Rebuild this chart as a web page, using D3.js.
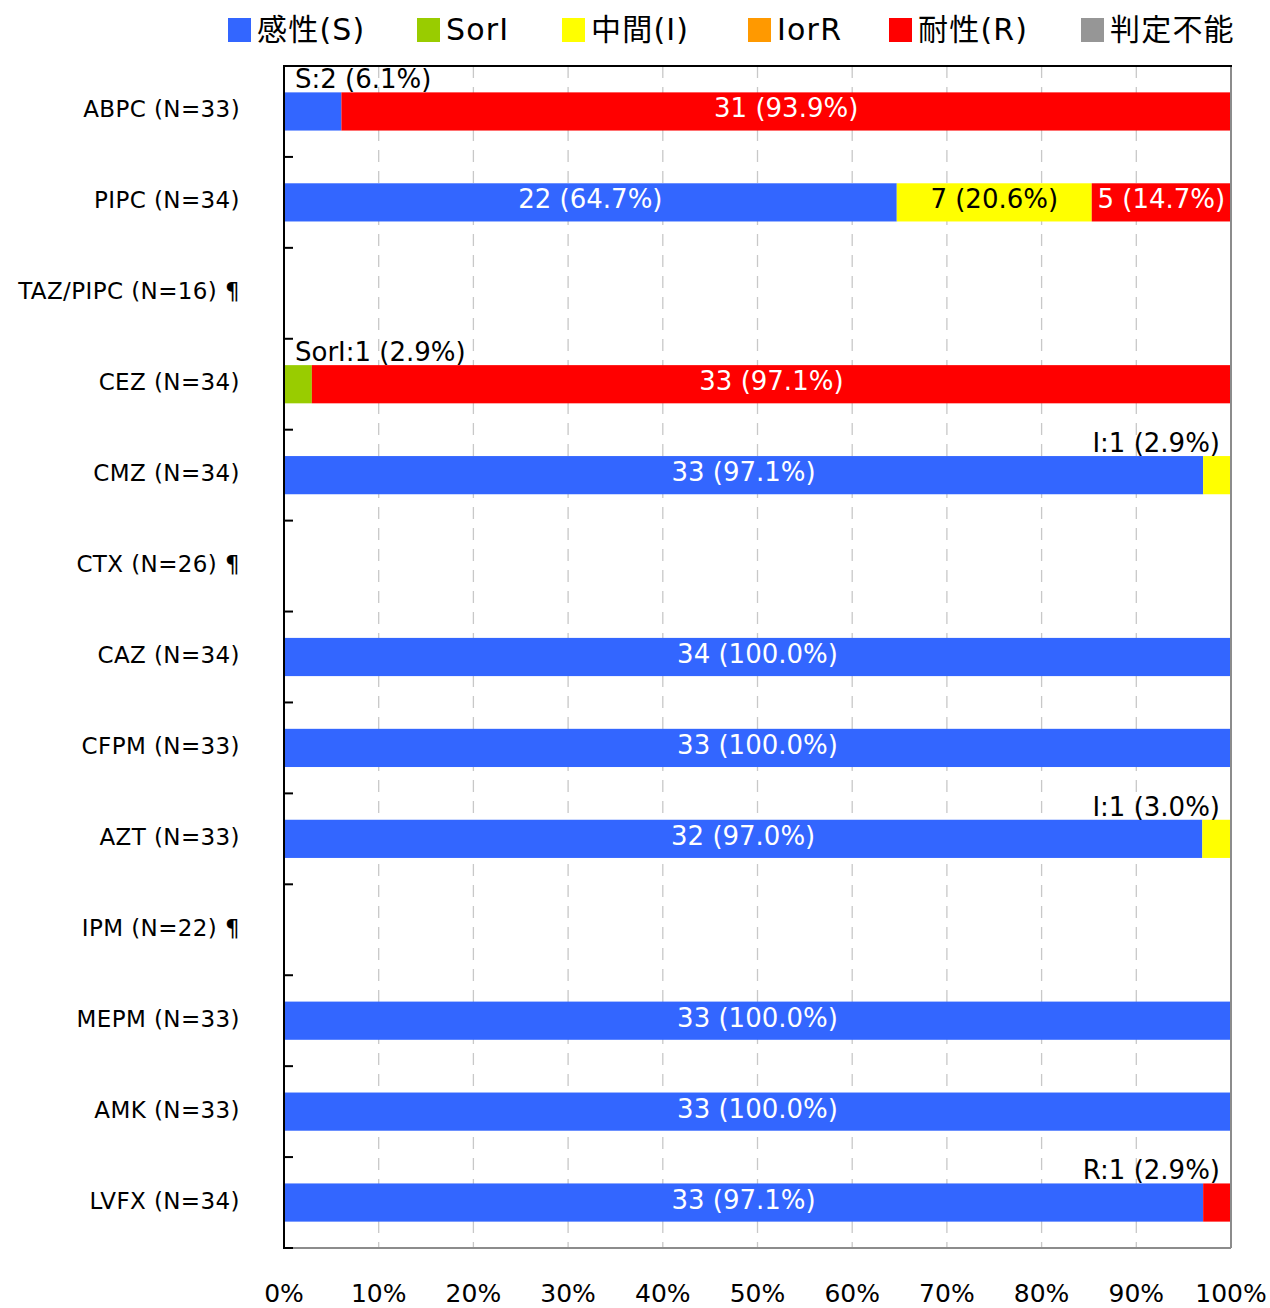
<!DOCTYPE html>
<html><head><meta charset="utf-8">
<script src="https://cdn.jsdelivr.net/npm/d3@7/dist/d3.min.js"></script>
<style>body{margin:0;background:#fff}svg{display:block}</style>
</head><body>
<svg id="c" width="1270" height="1308"></svg>
<script>
const categories = ["ABPC (N=33)","PIPC (N=34)","TAZ/PIPC (N=16) ¶","CEZ (N=34)","CMZ (N=34)","CTX (N=26) ¶","CAZ (N=34)","CFPM (N=33)","AZT (N=33)","IPM (N=22) ¶","MEPM (N=33)","AMK (N=33)","LVFX (N=34)"];
const seriesNames = ["感性(S)","SorI","中間(I)","IorR","耐性(R)","判定不能"];
const seriesKeys = ["S","SorI","I","IorR","R","ND"];
const seriesColors = ["#3366FF","#99CC00","#FFFF00","#FF9900","#FF0000","#969696"];
const labelColors = ["#fff","#fff","#000","#000","#fff","#fff"];
const countS    = [2,22,0,0,33,0,34,33,32,0,33,33,33];
const countSorI = [0,0,0,1,0,0,0,0,0,0,0,0,0];
const countI    = [0,7,0,0,1,0,0,0,1,0,0,0,0];
const countIorR = [0,0,0,0,0,0,0,0,0,0,0,0,0];
const countR    = [31,5,0,33,0,0,0,0,0,0,0,0,1];
const countND   = [0,0,0,0,0,0,0,0,0,0,0,0,0];
const xTicks = [0,10,20,30,40,50,60,70,80,90,100];

(function(){
const seriesCounts = [countS,countSorI,countI,countIorR,countR,countND];
const svg = d3.select("#c");
const FONT = "'DejaVu Sans','Noto Sans CJK JP',sans-serif";
const pL=284, pR=1231, pT=66, pB=1248;
const x = d3.scaleLinear().domain([0,100]).range([pL,pR]);
const y = d3.scaleBand().domain(categories).range([pT,pB]);
const barH = y.bandwidth()*0.42;

// gridlines
svg.append("g").selectAll("line").data(xTicks.filter(d=>d>0&&d<100)).join("line")
  .attr("x1",d=>x(d)).attr("x2",d=>x(d)).attr("y1",pT).attr("y2",pB)
  .attr("stroke","#c8c8c8").attr("stroke-width",1.3).attr("stroke-dasharray","12,9");

// build segments
const segs=[];
categories.forEach((c,i)=>{
  const total = d3.sum(seriesCounts,s=>s[i]);
  let acc=0;
  seriesCounts.forEach((s,k)=>{
    const v=s[i];
    if(v>0){
      const p0=acc/total*100, p1=(acc+v)/total*100;
      segs.push({cat:c,k,v,p0,p1,pct:v/total*100});
    }
    acc+=v;
  });
});

svg.append("g").selectAll("rect").data(segs).join("rect")
  .attr("x",d=>x(d.p0)).attr("width",d=>x(d.p1)-x(d.p0))
  .attr("y",d=>y(d.cat)+(y.bandwidth()-barH)/2).attr("height",barH)
  .attr("fill",d=>seriesColors[d.k]);

// frame
svg.append("line").attr("x1",pR).attr("x2",pR).attr("y1",pT).attr("y2",pB).attr("stroke","#8c8c8c").attr("stroke-width",2);
svg.append("line").attr("x1",pL).attr("x2",pR).attr("y1",pB).attr("y2",pB).attr("stroke","#8c8c8c").attr("stroke-width",2);
svg.append("line").attr("x1",pL).attr("x2",pR+1).attr("y1",pT).attr("y2",pT).attr("stroke","#000").attr("stroke-width",2);
svg.append("line").attr("x1",pL).attr("x2",pL).attr("y1",pT-1).attr("y2",pB+1).attr("stroke","#000").attr("stroke-width",2);
// y ticks at band boundaries (inside)
const bounds = categories.map(c=>y(c)+y.bandwidth());
svg.append("g").selectAll("line").data(bounds).join("line")
  .attr("x1",pL).attr("x2",pL+9).attr("y1",d=>d).attr("y2",d=>d)
  .attr("stroke","#000").attr("stroke-width",2);

// category labels
svg.append("g").selectAll("text").data(categories).join("text")
  .attr("x",240).attr("y",d=>y(d)+y.bandwidth()/2+6)
  .attr("text-anchor","end").attr("font-family",FONT).attr("font-size",23)
  .attr("letter-spacing",0.4).attr("fill","#000")
  .text(d=>d);

// x tick labels
svg.append("g").selectAll("text").data(xTicks).join("text")
  .attr("x",d=>x(d)).attr("y",1302).attr("text-anchor","middle")
  .attr("font-family",FONT).attr("font-size",25).attr("fill","#000")
  .text(d=>d+"%");

// bar labels
const inside = segs.filter(d=>d.pct>=10), outside = segs.filter(d=>d.pct<10);
svg.append("g").selectAll("text").data(inside).join("text")
  .attr("x",d=>x((d.p0+d.p1)/2)).attr("y",d=>y(d.cat)+y.bandwidth()/2+6)
  .attr("text-anchor","middle").attr("font-family",FONT).attr("font-size",26)
  .attr("fill",d=>labelColors[d.k])
  .text(d=>`${d.v} (${d.pct.toFixed(1)}%)`);
svg.append("g").selectAll("text").data(outside).join("text")
  .attr("x",d=>d.p0<50 ? x(d.p0)+11 : x(d.p1)-11)
  .attr("y",d=>y(d.cat)+(y.bandwidth()-barH)/2-4)
  .attr("text-anchor",d=>d.p0<50?"start":"end").attr("font-family",FONT).attr("font-size",26).attr("fill","#000")
  .text(d=>`${seriesKeys[d.k]}:${d.v} (${d.pct.toFixed(1)}%)`);

// legend
const legendX=[228,417,562,748,889,1081];
const lg = svg.append("g").selectAll("g").data(seriesNames).join("g")
  .attr("transform",(d,i)=>`translate(${legendX[i]},0)`);
lg.append("rect").attr("x",0).attr("y",18).attr("width",23).attr("height",24).attr("fill",(d,i)=>seriesColors[i]);
lg.append("text").attr("x",29).attr("y",40).attr("font-family",FONT).attr("font-size",30)
  .attr("letter-spacing",1.2).attr("fill","#000").text(d=>d);
})();
</script>
</body></html>
